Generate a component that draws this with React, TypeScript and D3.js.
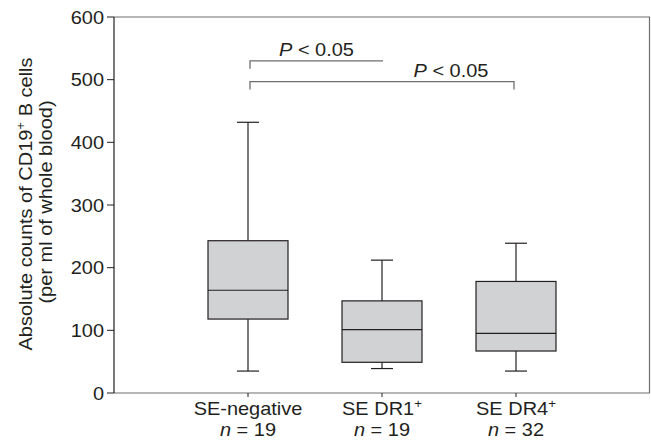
import React from "react";
import * as d3 from "d3";

const categories = ["SE-negative", "SE DR1", "SE DR4"];
const catSup = ["", "+", "+"];
const nLabels = ["19", "19", "32"];
const whiskerLow = [35, 39, 35];
const q1 = [118, 49, 67];
const median = [164, 101, 95];
const q3 = [243, 147, 178];
const whiskerHigh = [432, 212, 239];
const yTicks = [0, 100, 200, 300, 400, 500, 600];
const brackets = [
  { from: 0, to: 1, level: 530, label: "0.05", rightTick: false },
  { from: 0, to: 2, level: 497, label: "0.05", rightTick: true },
];

const W = 651;
const H = 441;
const margin = { left: 114, right: 1, top: 17, bottom: 48 };
const SX = 1.11;
const FS = 18;

function T({ x, y, anchor = "middle", rotate = 0, children }: any) {
  return (
    <g transform={`translate(${x},${y}) rotate(${rotate}) scale(${SX},1)`}>
      <text x={0} y={0} textAnchor={anchor} fontSize={FS} fill="#231f20">
        {children}
      </text>
    </g>
  );
}

export default function App() {
  const y = d3.scaleLinear().domain([0, 600]).range([H - margin.bottom, margin.top]);
  const x = d3.scalePoint<string>().domain(categories).range([248, 516]);
  const boxW = 80;
  const font = "'Liberation Sans', Arial, Helvetica, sans-serif";
  const dark = "#231f20";
  const gray = "#6d6e70";
  const x0 = margin.left;
  const x1 = W - margin.right;
  const yTop = margin.top;
  const yBot = y(0);
  return (
    <svg width={W} height={H} style={{ position: "absolute", left: 0, top: 0 }} fontFamily={font}>
      <rect x={0} y={0} width={W} height={H} fill="#fff" />
      {/* frame */}
      <line x1={x0} x2={x1} y1={yTop} y2={yTop} stroke={gray} strokeWidth={1.2} />
      <line x1={x1 - 0.5} x2={x1 - 0.5} y1={yTop} y2={yBot} stroke={gray} strokeWidth={1.2} />
      <line x1={x0} x2={x1} y1={yBot} y2={yBot} stroke={gray} strokeWidth={1.2} />
      <line x1={x0} x2={x0} y1={yTop} y2={yBot} stroke={dark} strokeWidth={1.2} />
      {/* y ticks */}
      {yTicks.map((t) => (
        <g key={t}>
          <line x1={x0 - 7} x2={x0} y1={y(t)} y2={y(t)} stroke={dark} strokeWidth={1} />
          <T x={x0 - 10} y={y(t) + 6.5} anchor="end">
            {t}
          </T>
        </g>
      ))}
      {/* y label */}
      <T x={32} y={204} rotate={-90}>
        Absolute counts of CD19
        <tspan fontSize={12} dy={-7}>+</tspan>
        <tspan dy={7}> B cells</tspan>
      </T>
      <T x={52} y={202} rotate={-90}>
        (per ml of whole blood)
      </T>
      {/* boxes */}
      {categories.map((c, i) => {
        const cx = x(c)!;
        return (
          <g key={c}>
            <line x1={cx} x2={cx} y1={y(whiskerHigh[i])} y2={y(q3[i])} stroke={dark} strokeWidth={1.2} />
            <line x1={cx} x2={cx} y1={y(q1[i])} y2={y(whiskerLow[i])} stroke={dark} strokeWidth={1.2} />
            <line x1={cx - 11} x2={cx + 11} y1={y(whiskerHigh[i])} y2={y(whiskerHigh[i])} stroke={dark} strokeWidth={1.2} />
            <line x1={cx - 11} x2={cx + 11} y1={y(whiskerLow[i])} y2={y(whiskerLow[i])} stroke={dark} strokeWidth={1.2} />
            <rect
              x={cx - boxW / 2}
              y={y(q3[i])}
              width={boxW}
              height={y(q1[i]) - y(q3[i])}
              fill="#d1d2d4"
              stroke={dark}
              strokeWidth={1.2}
            />
            <line x1={cx - boxW / 2} x2={cx + boxW / 2} y1={y(median[i])} y2={y(median[i])} stroke={dark} strokeWidth={1.2} />
            <line x1={cx} x2={cx} y1={yBot} y2={yBot + 4} stroke={dark} strokeWidth={1} />
            <T x={cx} y={415}>
              {categories[i]}
              {catSup[i] && (
                <tspan fontSize={12} dy={-7}>
                  {catSup[i]}
                </tspan>
              )}
            </T>
            <T x={cx} y={436}>
              <tspan fontStyle="italic">n</tspan> = {nLabels[i]}
            </T>
          </g>
        );
      })}
      {/* significance brackets */}
      {brackets.map((b, i) => {
        const xa = x(categories[b.from])! + 2;
        const xb = x(categories[b.to])! + (b.rightTick ? -2 : 1);
        const yy = y(b.level);
        return (
          <g key={i}>
            <path
              d={`M${xa},${yy + 8} V${yy} H${xb}${b.rightTick ? ` V${yy + 8}` : ""}`}
              fill="none"
              stroke={gray}
              strokeWidth={1.3}
            />
            <T x={b.rightTick ? xb - 63 : (xa + xb) / 2} y={yy - 5}>
              <tspan fontStyle="italic">P</tspan> &lt; {b.label}
            </T>
          </g>
        );
      })}
    </svg>
  );
}
